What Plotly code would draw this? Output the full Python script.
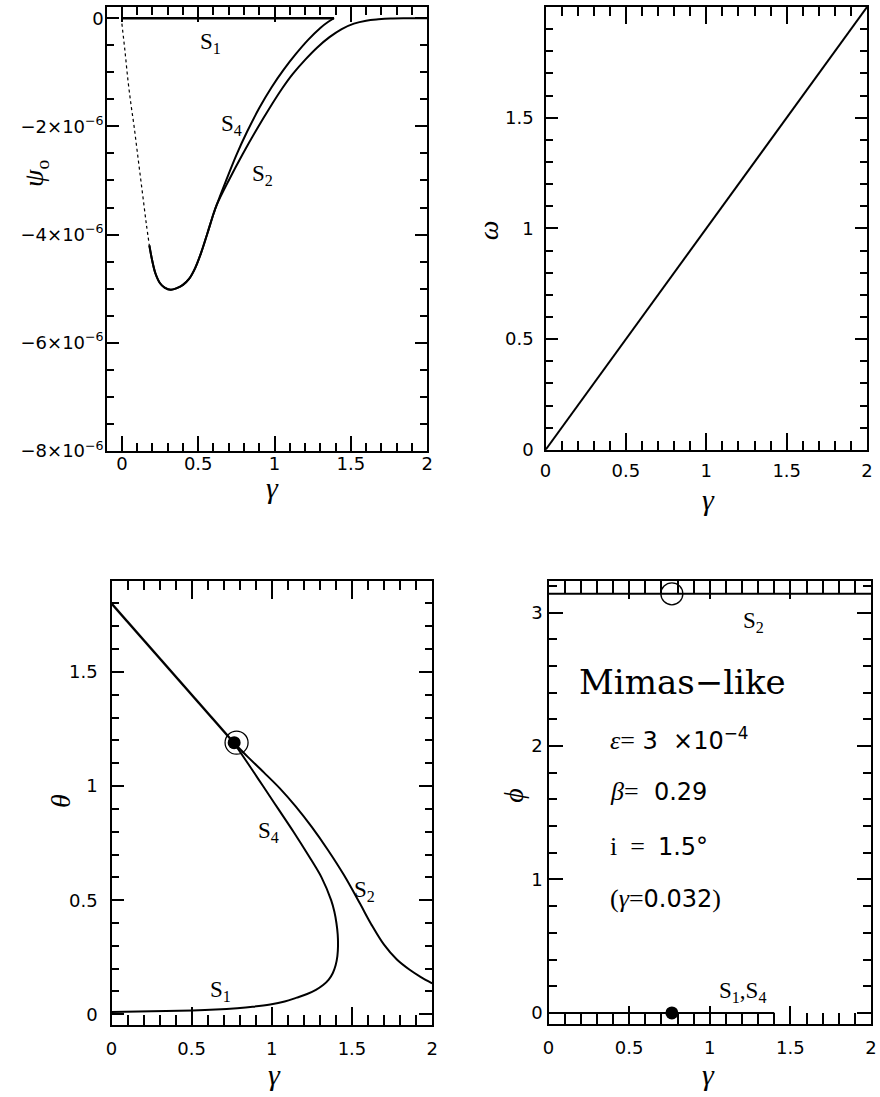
import plotly.graph_objects as go

# ---------------- data ----------------
# psi_0 versus gamma (top left), psi in units of 1e-6
s1_psi_gamma = [0.0, 1.39]
s1_psi = [0.0, 0.0]

# thin dotted start of the common branch
left_branch_gamma = [0.0, 0.02, 0.04, 0.06, 0.08, 0.10, 0.12, 0.14, 0.16, 0.18]
left_branch_psi = [-0.1, -0.6, -1.15, -1.6, -2.0, -2.45, -2.9, -3.35, -3.8, -4.2]

# solid common branch through the minimum
bottom_gamma = [0.18, 0.20, 0.22, 0.25, 0.28, 0.32, 0.36, 0.40, 0.44, 0.48, 0.52, 0.56, 0.60, 0.62]
bottom_psi = [-4.2, -4.5, -4.72, -4.9, -4.98, -5.02, -4.99, -4.93, -4.82, -4.62, -4.33, -3.98, -3.62, -3.46]

s4_psi_gamma = [0.62, 0.68, 0.75, 0.82, 0.90, 0.98, 1.06, 1.14, 1.22, 1.30, 1.35, 1.39]
s4_psi = [-3.46, -3.02, -2.53, -2.10, -1.66, -1.28, -0.95, -0.66, -0.40, -0.18, -0.07, 0.0]

s2_psi_gamma = [0.62, 0.70, 0.79, 0.88, 0.97, 1.05, 1.12, 1.20, 1.28, 1.36, 1.44, 1.52, 1.60, 1.68, 1.76, 1.85, 2.0]
s2_psi = [-3.46, -3.00, -2.52, -2.07, -1.65, -1.30, -1.03, -0.77, -0.54, -0.35, -0.20, -0.10, -0.045, -0.02, -0.005, 0.0, 0.0]

# omega versus gamma (top right)
omega_gamma = [0.0, 0.5, 1.0, 1.5, 2.0]
omega = [0.0, 0.5, 1.0, 1.5, 2.0]

# theta versus gamma (bottom left)
common_theta_gamma = [0.0, 0.25, 0.5, 0.763]
common_theta = [1.80, 1.60, 1.40, 1.19]

s4_theta_gamma = [0.763, 0.85, 0.945, 1.04, 1.135, 1.225, 1.31, 1.37, 1.39, 1.403, 1.411, 1.413]
s4_theta = [1.19, 1.10, 1.00, 0.90, 0.80, 0.70, 0.60, 0.50, 0.45, 0.40, 0.35, 0.30]

s1_theta_gamma = [0.0, 0.25, 0.505, 0.65, 0.784, 0.88, 0.99, 1.08, 1.155, 1.22, 1.275, 1.32, 1.355, 1.38, 1.398, 1.409, 1.413]
s1_theta = [0.01, 0.013, 0.017, 0.021, 0.027, 0.033, 0.043, 0.056, 0.073, 0.089, 0.107, 0.128, 0.152, 0.18, 0.215, 0.255, 0.30]

s2_theta_gamma = [0.763, 0.85, 0.95, 1.05, 1.15, 1.25, 1.35, 1.45, 1.55, 1.62, 1.70, 1.78, 1.86, 1.93, 2.0]
s2_theta = [1.19, 1.128, 1.06, 0.99, 0.91, 0.82, 0.72, 0.61, 0.485, 0.395, 0.305, 0.24, 0.195, 0.163, 0.136]

# phi versus gamma (bottom right)
s2_phi_gamma = [0.0, 2.0]
s2_phi = [3.1416, 3.1416]
s14_phi_gamma = [0.0, 1.40]
s14_phi = [0.0, 0.0]

# critical point: S1/S4 (filled) and S2 (open)
crit_gamma_s14 = 0.765
crit_gamma_s2 = 0.78
crit_theta = 1.19

# tick labels
psi_tickvals = [0, -2e-6, -4e-6, -6e-6, -8e-6]
psi_ticktext = ["0", "−2×10<sup>−6</sup>", "−4×10<sup>−6</sup>", "−6×10<sup>−6</sup>", "−8×10<sup>−6</sup>"]

# ---------------- figure ----------------
W, H = 880, 1097
BLACK = "black"
SERIF = "Liberation Serif"
SANS = "DejaVu Sans"


def xdom(a, b):
    return [a / W, b / W]


def ydom(top, bottom):
    return [1 - bottom / H, 1 - top / H]


def tick_axis(rng, dtick, minor_dtick, ticklen, minor_len, **kw):
    """Frame side carrying inside major and minor ticks, no labels."""
    d = dict(
        range=rng, showgrid=False, zeroline=False, showticklabels=False,
        ticks="inside", ticklen=ticklen, tickwidth=1.5, tickcolor=BLACK,
        tick0=0, dtick=dtick,
        minor=dict(ticks="inside", ticklen=minor_len, tick0=0, dtick=minor_dtick),
    )
    d.update(kw)
    return d


def label_axis(over, side, rng, position, dtick, **kw):
    """Tick labels only, set on a free twin so their distance from the frame is explicit."""
    d = dict(
        overlaying=over, side=side, range=rng, anchor="free", position=position,
        showline=False, showgrid=False, zeroline=False, ticks="",
        showticklabels=True, tickfont=dict(family=SANS, size=18, color=BLACK),
        tick0=0, dtick=dtick,
    )
    d.update(kw)
    return d


fig = go.Figure()
solid = dict(color=BLACK, width=2, shape="spline")


def psi(vals):
    return [v * 1e-6 for v in vals]


# top left
fig.add_trace(go.Scatter(x=s1_psi_gamma, y=psi(s1_psi), mode="lines",
                         line=dict(color=BLACK, width=2.5), xaxis="x", yaxis="y"))
fig.add_trace(go.Scatter(x=left_branch_gamma, y=psi(left_branch_psi), mode="lines",
                         line=dict(color=BLACK, width=1.2, dash="dot", shape="spline"), xaxis="x", yaxis="y"))
fig.add_trace(go.Scatter(x=bottom_gamma + s4_psi_gamma[1:], y=psi(bottom_psi + s4_psi[1:]), mode="lines",
                         line=solid, xaxis="x", yaxis="y"))
fig.add_trace(go.Scatter(x=bottom_gamma + s2_psi_gamma[1:], y=psi(bottom_psi + s2_psi[1:]), mode="lines",
                         line=solid, xaxis="x", yaxis="y"))

# top right
fig.add_trace(go.Scatter(x=omega_gamma, y=omega, mode="lines", line=dict(color=BLACK, width=2),
                         xaxis="x2", yaxis="y2"))

# bottom left
fig.add_trace(go.Scatter(x=common_theta_gamma, y=common_theta, mode="lines",
                         line=dict(color=BLACK, width=2.4), xaxis="x3", yaxis="y3"))
fig.add_trace(go.Scatter(x=s4_theta_gamma + s1_theta_gamma[::-1][1:], y=s4_theta + s1_theta[::-1][1:],
                         mode="lines", line=solid, xaxis="x3", yaxis="y3"))
fig.add_trace(go.Scatter(x=s2_theta_gamma, y=s2_theta, mode="lines", line=solid, xaxis="x3", yaxis="y3"))
fig.add_trace(go.Scatter(x=[crit_gamma_s2], y=[crit_theta], mode="markers",
                         marker=dict(symbol="circle-open", size=23, color=BLACK, line=dict(width=1.3)),
                         xaxis="x3", yaxis="y3"))
fig.add_trace(go.Scatter(x=[crit_gamma_s14], y=[crit_theta], mode="markers",
                         marker=dict(symbol="circle", size=13, color=BLACK),
                         xaxis="x3", yaxis="y3"))

# bottom right
fig.add_trace(go.Scatter(x=s2_phi_gamma, y=s2_phi, mode="lines", line=dict(color=BLACK, width=2),
                         xaxis="x4", yaxis="y4"))
fig.add_trace(go.Scatter(x=s14_phi_gamma, y=s14_phi, mode="lines", line=dict(color=BLACK, width=2),
                         xaxis="x4", yaxis="y4"))
fig.add_trace(go.Scatter(x=[crit_gamma_s14], y=[s2_phi[0]], mode="markers",
                         marker=dict(symbol="circle-open", size=22, color=BLACK, line=dict(width=1.3)),
                         xaxis="x4", yaxis="y4", cliponaxis=False))
fig.add_trace(go.Scatter(x=[crit_gamma_s14], y=[s14_phi[0]], mode="markers",
                         marker=dict(symbol="circle", size=13, color=BLACK),
                         xaxis="x4", yaxis="y4", cliponaxis=False))

# empty traces registering the twin axes (far-side ticks: 5-8, labels: 9-12)
for i in range(1, 5):
    sx = "" if i == 1 else str(i)
    for k in (4, 8):
        fig.add_trace(go.Scatter(x=[None], y=[None], mode="lines", xaxis=f"x{i + k}", yaxis=f"y{sx}",
                                 hoverinfo="skip", showlegend=False))
        fig.add_trace(go.Scatter(x=[None], y=[None], mode="lines", xaxis=f"x{sx}", yaxis=f"y{i + k}",
                                 hoverinfo="skip", showlegend=False))

psi_range = [-8e-6, 0.2e-6]
theta_range = [-0.045, 1.9]
phi_range = [-0.08, 3.24]
frame = dict(showline=True, linecolor=BLACK, linewidth=2, mirror=True)

# panel frames in pixels: (left, right, top, bottom)
P1 = (102, 427, 7.5, 455)
P2 = (547, 873, 7, 454)
P3 = (107, 432, 586, 1034)
P4 = (550, 877, 586, 1033)


def below(p, gap):
    return 1 - (p[3] + gap) / H


def left_of(p, gap):
    return (p[0] - gap) / W


fig.update_layout(
    width=W, height=H, margin=dict(l=0, r=0, t=0, b=0),
    paper_bgcolor="white", plot_bgcolor="white", showlegend=False,
    # top left
    xaxis=tick_axis([-0.1, 2.0], 0.5, 0.1, 15, 8, domain=xdom(P1[0], P1[1]), anchor="y", **frame),
    yaxis=tick_axis(psi_range, 2e-6, 0.5e-6, 12, 7, domain=ydom(P1[2], P1[3]), anchor="x", **frame),
    xaxis5=tick_axis([-0.1, 2.0], 0.5, 0.1, 15, 8, overlaying="x", side="top", anchor="y"),
    yaxis5=tick_axis(psi_range, 2e-6, 0.5e-6, 12, 7, overlaying="y", side="right", anchor="x"),
    xaxis9=label_axis("x", "bottom", [-0.1, 2.0], below(P1, 0), 0.5),
    yaxis9=label_axis("y", "left", psi_range, left_of(P1, 3), 2e-6,
                      tickmode="array", tickvals=psi_tickvals, ticktext=psi_ticktext),
    # top right
    xaxis2=tick_axis([0, 2], 0.5, 0.1, 17, 9, domain=xdom(P2[0], P2[1]), anchor="y2", **frame),
    yaxis2=tick_axis([0, 2], 0.5, 0.1, 12, 7, domain=ydom(P2[2], P2[3]), anchor="x2", **frame),
    xaxis6=tick_axis([0, 2], 0.5, 0.1, 17, 9, overlaying="x2", side="top", anchor="y2"),
    yaxis6=tick_axis([0, 2], 0.5, 0.1, 12, 7, overlaying="y2", side="right", anchor="x2"),
    xaxis10=label_axis("x2", "bottom", [0, 2], below(P2, 8), 0.5),
    yaxis10=label_axis("y2", "left", [0, 2], left_of(P2, 12), 0.5),
    # bottom left
    xaxis3=tick_axis([0, 2], 0.5, 0.1, 18, 10, domain=xdom(P3[0], P3[1]), anchor="y3", **frame),
    yaxis3=tick_axis(theta_range, 0.5, 0.1, 12, 7, domain=ydom(P3[2], P3[3]), anchor="x3", **frame),
    xaxis7=tick_axis([0, 2], 0.5, 0.1, 18, 9, overlaying="x3", side="top", anchor="y3"),
    yaxis7=tick_axis(theta_range, 0.5, 0.1, 13, 7, overlaying="y3", side="right", anchor="x3"),
    xaxis11=label_axis("x3", "bottom", [0, 2], below(P3, 12), 0.5),
    yaxis11=label_axis("y3", "left", theta_range, left_of(P3, 14), 0.5),
    # bottom right
    xaxis4=tick_axis([0, 2], 0.5, 0.1, 18, 11, domain=xdom(P4[0], P4[1]), anchor="y4", **frame),
    yaxis4=tick_axis(phi_range, 1, 0.2, 14, 8, domain=ydom(P4[2], P4[3]), anchor="x4", **frame),
    xaxis8=tick_axis([0, 2], 0.5, 0.1, 18, 12, overlaying="x4", side="top", anchor="y4"),
    yaxis8=tick_axis(phi_range, 1, 0.2, 14, 8, overlaying="y4", side="right", anchor="x4"),
    xaxis12=label_axis("x4", "bottom", [0, 2], below(P4, 12), 0.5),
    yaxis12=label_axis("y4", "left", phi_range, left_of(P4, 6), 1),
)

ann = []


def label(text, x, y, xref, yref, size=23, family=SERIF, xanchor="center"):
    ann.append(dict(text=text, x=x, y=y, xref=xref, yref=yref, showarrow=False,
                    xanchor=xanchor, yanchor="middle",
                    font=dict(family=family, size=size, color=BLACK)))


# curve names
label("S<sub>1</sub>", 0.58, -0.45e-6, "x", "y")
label("S<sub>4</sub>", 0.72, -1.98e-6, "x", "y")
label("S<sub>2</sub>", 0.92, -2.9e-6, "x", "y")
label("S<sub>4</sub>", 0.98, 0.80, "x3", "y3")
label("S<sub>2</sub>", 1.58, 0.54, "x3", "y3")
label("S<sub>1</sub>", 0.68, 0.10, "x3", "y3")
label("S<sub>2</sub>", 1.27, 2.93, "x4", "y4")
label("S<sub>1</sub>,S<sub>4</sub>", 1.2, 0.16, "x4", "y4")

# parameter block
NB = "\u00a0"
GREEK = "font-family:Liberation Serif;font-style:italic;font-size:26px"
SER = "font-family:Liberation Serif;font-size:26px"
label("Mimas−like", 0.83, 2.48, "x4", "y4", size=34, family="DejaVu Serif")
label(f"<span style='{GREEK}'>ε</span><span style='{SER}'>=</span>{NB}3{NB}{NB}×10<sup>−4</sup>",
      0.37, 2.05, "x4", "y4", size=24, family=SANS, xanchor="left")
label(f"<span style='{GREEK}'>β</span><span style='{SER}'>=</span>{NB}{NB}0.29",
      0.37, 1.66, "x4", "y4", size=24, family=SANS, xanchor="left")
label(f"<span style='{SER}'>i{NB}{NB}={NB}{NB}</span>1.5°",
      0.37, 1.25, "x4", "y4", size=24, family=SANS, xanchor="left")
label(f"<span style='{SER}'>(</span><span style='{GREEK}'>γ</span><span style='{SER}'>=</span>0.032"
      f"<span style='{SER}'>)</span>", 0.37, 0.86, "x4", "y4", size=24, family=SANS, xanchor="left")

# axis titles
GAMMA = "<i>γ</i>"


def title(text, px, py, size=28, angle=-90):
    ann.append(dict(text=text, x=px / W, y=1 - py / H, xref="paper", yref="paper",
                    showarrow=False, xanchor="center", yanchor="middle", textangle=angle,
                    font=dict(family=SERIF, size=size, color=BLACK)))


title(GAMMA, 270, 492, size=30, angle=0)
title(GAMMA, 712, 504, size=30, angle=0)
title(GAMMA, 272, 1084, size=30, angle=0)
title(GAMMA, 712, 1084, size=30, angle=0)
title("<i>ψ</i><sub>o</sub>", 30, 175)
title("<i>ω</i>", 490, 232)
title("<i>θ</i>", 55, 808)
title("<i>ϕ</i>", 515, 802)

fig.update_layout(annotations=ann)
fig.write_html("out.html")
